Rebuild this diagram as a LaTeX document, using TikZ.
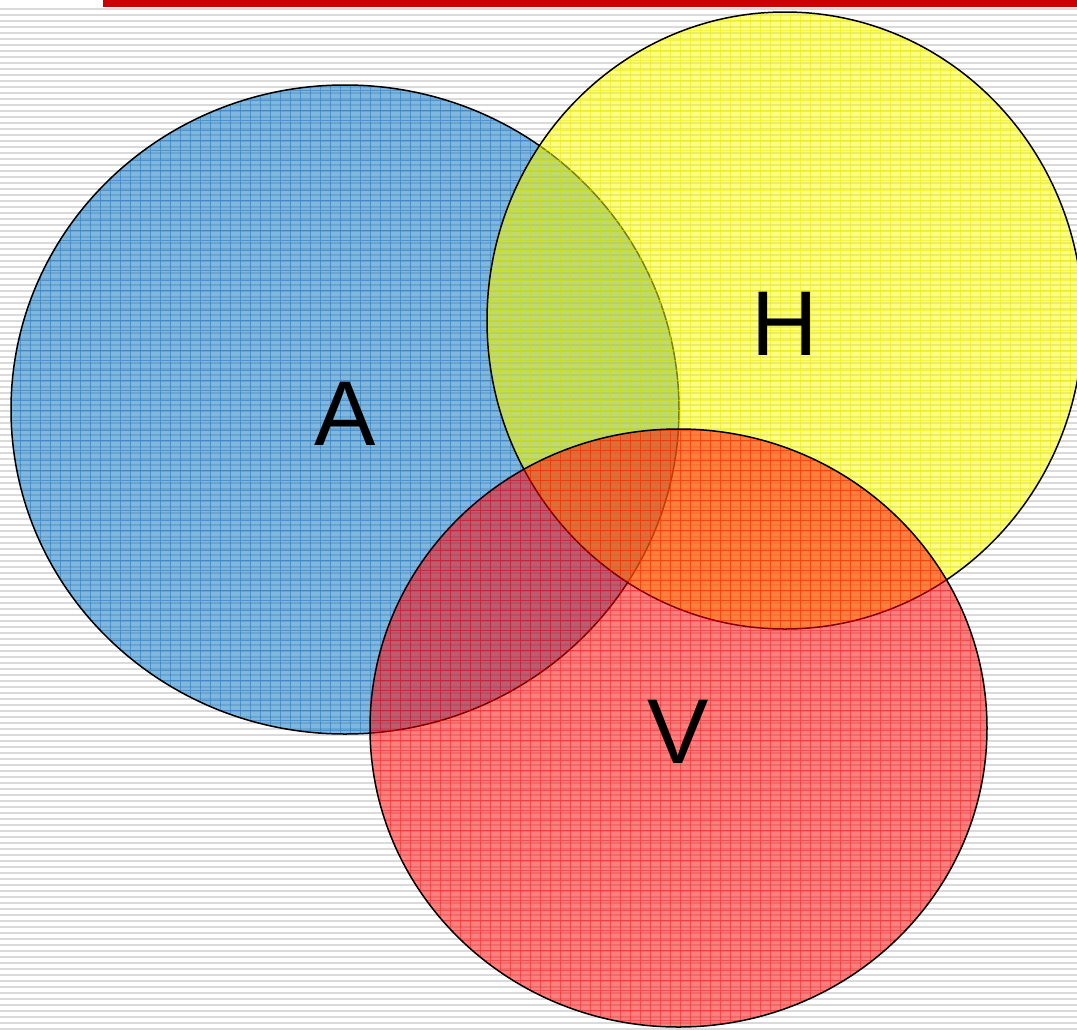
\documentclass[tikz,border=0pt]{standalone}
\usepackage{fontspec}
\setmainfont{Liberation Sans}
\definecolor{aBlue}{RGB}{0,112,192}
\definecolor{aBlueLine}{RGB}{0,95,190}
\definecolor{hYellow}{RGB}{255,255,0}
\definecolor{hYellowLine}{RGB}{235,235,0}
\definecolor{vRed}{RGB}{255,0,0}
\definecolor{vRedLine}{RGB}{240,0,0}
\definecolor{barRed}{RGB}{204,0,0}
\definecolor{stripeGray}{RGB}{218,218,218}
\tikzset{
  stripe/.style={draw=stripeGray, line width=1.8pt},
  topbar/.style={fill=barRed},
  outline/.style={draw=black, line width=1.5pt},
  gridline/.style={line width=0.9pt},
  biglabel/.style={font=\fontsize{92}{92}\selectfont, inner sep=0pt, text=black}
}
\begin{document}
\begin{tikzpicture}[x=1pt,y=-1pt]
\useasboundingbox (0,0) rectangle (1077,1029);
\clip (0,0) rectangle (1077,1029);
\fill[white] (0,0) rectangle (1077,1029);
% background stripes
\foreach \y in {9,15,...,1029} \draw[stripe] (0,\y) -- (1077,\y);
% top red bar
\fill[topbar] (103,0) rectangle (1077,7);
% circle A (blue)
\fill[aBlue, fill opacity=0.5] (345,409.5) ellipse [x radius=334, y radius=324.5];
\begin{scope}
  \clip (345,409.5) ellipse [x radius=334, y radius=324.5];
  \draw[gridline, aBlueLine, draw opacity=0.4] (0,0) grid[step=10pt] (1080,1030);
\end{scope}
\draw[outline] (345,409.5) ellipse [x radius=334, y radius=324.5];
% circle H (yellow)
\fill[hYellow, fill opacity=0.5] (785,320.5) ellipse [x radius=298, y radius=308.5];
\begin{scope}
  \clip (785,320.5) ellipse [x radius=298, y radius=308.5];
  \draw[gridline, hYellowLine, draw opacity=0.5] (0,0) grid[step=10pt] (1080,1030);
\end{scope}
\draw[outline] (785,320.5) ellipse [x radius=298, y radius=308.5];
% circle V (red)
\fill[vRed, fill opacity=0.5] (678.5,728) ellipse [x radius=308.5, y radius=299];
\begin{scope}
  \clip (678.5,728) ellipse [x radius=308.5, y radius=299];
  \draw[gridline, vRedLine, draw opacity=0.4] (0,0) grid[step=10pt] (1080,1030);
\end{scope}
\draw[outline] (678.5,728) ellipse [x radius=308.5, y radius=299];
% labels
\node[biglabel] (labA) at (345,414) {A};
\node[biglabel] (labH) at (785,324) {H};
\node[biglabel] (labV) at (678,732) {V};
\end{tikzpicture}
\end{document}
